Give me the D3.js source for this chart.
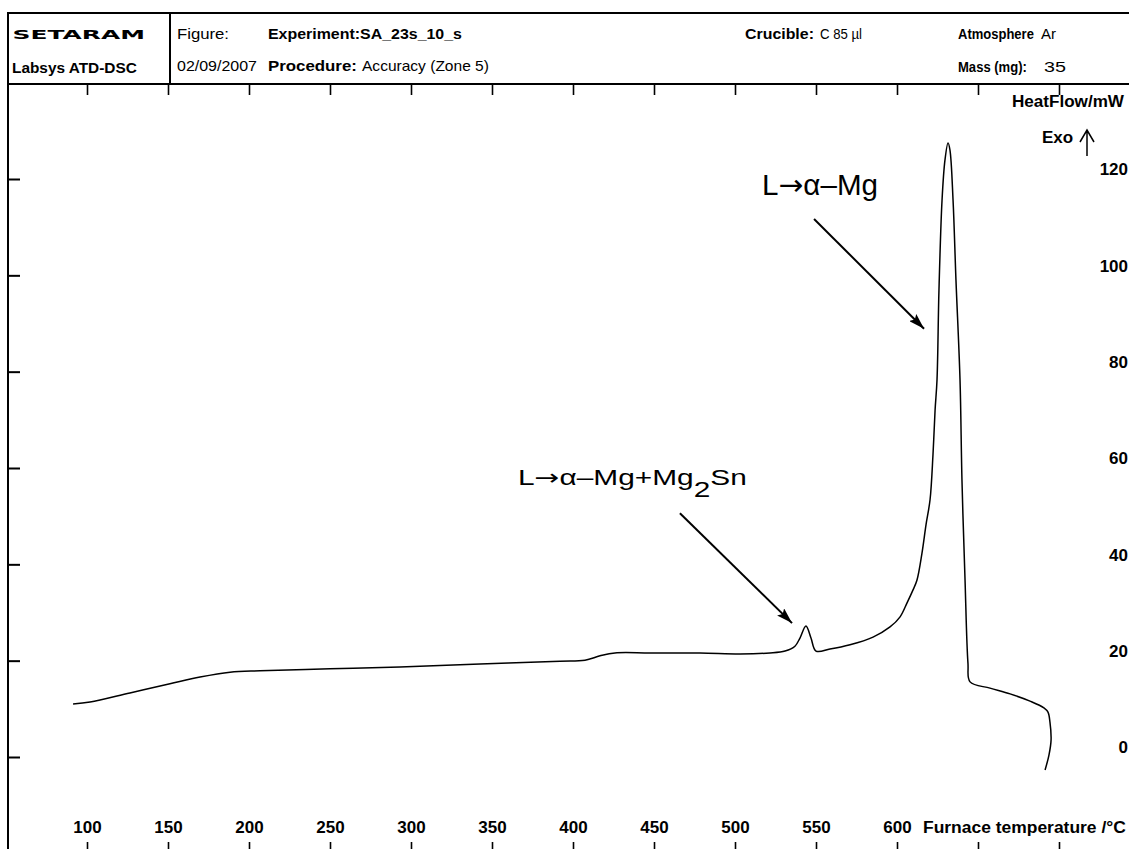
<!DOCTYPE html>
<html>
<head>
<meta charset="utf-8">
<script src="https://cdn.jsdelivr.net/npm/d3@7"></script>
<style>
  body { margin: 0; background: #fff; overflow: hidden; }
  svg { display: block; font-family: "Liberation Sans", Arial, sans-serif; }
</style>
</head>
<body>
<div id="chart"></div>
<script>
// DSC trace: furnace temperature (°C) vs heat flow (mW), in recording order
let temperature = [91.4, 101.9, 126.5, 151.2, 169.8, 188.3, 206.8, 250.0, 293.2, 342.6,
  392.0, 407.4, 416.7, 425.9, 447.5, 478.4, 503.1, 521.6, 530.9, 537.0,
  540.1, 543.8, 546.9, 550.0, 558.6, 571.0, 585.2, 595.7, 601.9, 606.2,
  609.9, 612.3, 615.4, 617.9, 620.4, 622.2, 623.5, 624.7, 625.9, 627.8,
  629.6, 631.5, 632.7, 634.6, 636.4, 638.9, 640.1, 642.0, 643.8, 645.1,
  657.4, 669.8, 682.1, 690.7, 693.2, 694.4, 695.1, 693.8, 691.4];
let heatFlow = [11.0, 11.4, 13.3, 15.2, 16.6, 17.6, 17.9, 18.3, 18.7, 19.3,
  19.9, 20.1, 21.0, 21.6, 21.6, 21.6, 21.4, 21.6, 22.0, 23.0,
  24.7, 27.2, 24.7, 22.0, 22.4, 23.3, 24.9, 27.0, 29.1, 32.0,
  34.7, 36.7, 42.3, 48.2, 53.4, 62.7, 72.0, 78.3, 96.9, 115.6,
  123.9, 127.5, 126.0, 115.6, 99.0, 78.3, 57.5, 36.7, 19.5, 15.6,
  14.3, 13.1, 11.6, 10.2, 9.3, 7.3, 3.5, 0.4, -2.7];

let tempTicks = [100, 150, 200, 250, 300, 350, 400, 450, 500, 550, 600, 650, 700];
let tempLabels = ["100", "150", "200", "250", "300", "350", "400", "450", "500", "550", "600", "", ""];
let heatTicks = [0, 20, 40, 60, 80, 100, 120];

// annotations: label, label anchor (temp, heat), arrow start and tip (temp, heat)
let annLabels = ["L|→|α–Mg", "L|→|α–Mg+Mg|_2|Sn"];
let annLabelAt = [[516.7, 116.7], [366.0, 56.5]];
let annArrowFrom = [[548.8, 111.7], [466.0, 50.6]];
let annArrowTo = [[616.7, 88.9], [535.2, 27.8]];

let headerText = ["SETARAM", "Labsys ATD-DSC", "Figure:", "Experiment:SA_23s_10_s",
  "02/09/2007", "Procedure:", "Accuracy (Zone 5)", "Crucible:", "C 85 µl",
  "Atmosphere", "Ar", "Mass (mg):", "35"];

let svgWidth = 1129;
let svgHeight = 849;

let svg = d3.select("#chart")
  .append("svg")
  .attr("width", svgWidth)
  .attr("height", svgHeight);

// scales
let x = d3.scaleLinear().domain([100, 600]).range([87, 897]);
let y = d3.scaleLinear().domain([0, 120]).range([757, 179]);

let frameLeft = 8, headTop = 13, plotTop = 84, plotBottom = 853;

// header box and plot frame
svg.append("path")
  .attr("d", `M${frameLeft},${svgHeight} V${headTop} H${svgWidth} M${frameLeft},${plotTop} H${svgWidth} M170,${headTop} V${plotTop}`)
  .attr("fill", "none")
  .attr("stroke", "#000")
  .attr("stroke-width", 2);

// header texts: [x start, x end, baseline, weight]
let headerPos = [[12.5, 145, 39, 900], [12, 137, 73, 700], [177, 229, 39, 400], [268, 462, 39, 700],
  [177, 257, 71, 400], [268, 357, 71, 700], [362, 489, 71, 400], [745, 814, 39, 700], [820, 862, 39, 400],
  [958, 1034, 39, 700], [1041, 1056, 39, 400], [958, 1027, 72, 700], [1044, 1066, 72, 400]];

// stretch a text horizontally so it spans the wanted width
function fitWidth(t, x0, y0, target) {
  let w = t.node().getComputedTextLength();
  t.attr("transform", `translate(${x0}, ${y0}) scale(${target / w}, 1)`);
}

svg.append("g").selectAll("text")
  .data(headerText)
  .enter()
  .append("text")
  .attr("font-size", (d, i) => i === 0 ? 13 : 15)
  .attr("font-family", (d, i) => i === 0 ? "DejaVu Sans" : null)
  .attr("font-weight", (d, i) => headerPos[i][3])
  .text(d => d)
  .each(function(d, i) {
    let p = headerPos[i];
    fitWidth(d3.select(this), p[0], p[2], p[1] - p[0]);
  });

// top ticks
let topAxis = svg.append("g")
  .attr("transform", `translate(0, ${plotTop})`)
  .call(d3.axisBottom(x).tickValues(tempTicks).tickSize(11).tickFormat(""));
topAxis.select(".domain").remove();
topAxis.selectAll("line").attr("stroke-width", 1.6);

// bottom ticks and labels
let bottomAxis = svg.append("g")
  .attr("transform", `translate(0, ${plotBottom})`)
  .call(d3.axisTop(x).tickValues(tempTicks).tickSize(11).tickPadding(9)
    .tickFormat((d, i) => tempLabels[i]));
bottomAxis.select(".domain").remove();
bottomAxis.selectAll("line").attr("stroke-width", 1.6);
bottomAxis.attr("font-size", 17).attr("font-weight", "bold")
  .attr("font-family", "'Liberation Sans', Arial, sans-serif");

let xTitle = svg.append("text")
  .attr("font-size", 17)
  .attr("font-weight", "bold")
  .text("Furnace temperature /°C");
fitWidth(xTitle, 923, 833, 203);

// left ticks
let leftAxis = svg.append("g")
  .attr("transform", `translate(${frameLeft}, 0)`)
  .call(d3.axisRight(y).tickValues(heatTicks).tickSize(12).tickFormat(""));
leftAxis.select(".domain").remove();
leftAxis.selectAll("line").attr("stroke-width", 2);

// right labels, flush with the page edge
let rightAxis = svg.append("g")
  .attr("transform", "translate(1137, 0)")
  .call(d3.axisLeft(y).tickValues(heatTicks).tickSize(0).tickPadding(9));
rightAxis.select(".domain").remove();
rightAxis.selectAll("line").remove();
rightAxis.attr("font-size", 17).attr("font-weight", "bold")
  .attr("font-family", "'Liberation Sans', Arial, sans-serif");
rightAxis.selectAll("text").attr("dy", "-0.25em");

let yTitle = svg.append("text")
  .attr("font-size", 17)
  .attr("font-weight", "bold")
  .text("HeatFlow/mW");
fitWidth(yTitle, 1012, 107, 112);

svg.append("text")
  .attr("x", 1042)
  .attr("y", 143)
  .attr("font-size", 17)
  .attr("font-weight", "bold")
  .text("Exo");

svg.append("path")
  .attr("d", "M1087,156 V130 M1080,142 L1087,130 L1094,142")
  .attr("fill", "none")
  .attr("stroke", "#000")
  .attr("stroke-width", 1.5);

// the curve
let line = d3.line()
  .x(i => x(temperature[i]))
  .y(i => y(heatFlow[i]))
  .curve(d3.curveCatmullRom.alpha(0.5));

svg.append("path")
  .datum(d3.range(temperature.length))
  .attr("d", line)
  .attr("fill", "none")
  .attr("stroke", "#000")
  .attr("stroke-width", 1.5)
  .attr("stroke-linejoin", "round");

// annotation arrows
svg.append("defs").append("marker")
  .attr("id", "arr")
  .attr("viewBox", "0 0 16 10")
  .attr("refX", 16)
  .attr("refY", 5)
  .attr("markerWidth", 16)
  .attr("markerHeight", 10)
  .attr("markerUnits", "userSpaceOnUse")
  .attr("orient", "auto")
  .append("path")
  .attr("d", "M0,0 L16,5 L0,10 L3,5 Z")
  .attr("fill", "#000");

svg.append("g").selectAll("line")
  .data(annArrowFrom)
  .enter()
  .append("line")
  .attr("x1", d => x(d[0]))
  .attr("y1", d => y(d[1]))
  .attr("x2", (d, i) => x(annArrowTo[i][0]))
  .attr("y2", (d, i) => y(annArrowTo[i][1]))
  .attr("stroke", "#000")
  .attr("stroke-width", 2)
  .attr("marker-end", "url(#arr)");

// annotation labels: "|" splits parts, "_" starts a subscript part
let labelSize = [29, 22];
let labelWidth = [116, 229];
annLabels.forEach(function(lbl, i) {
  let t = svg.append("text")
    .attr("font-size", labelSize[i]);
  let shift = 0;
  lbl.split("|").forEach(function(p) {
    let ts = t.append("tspan");
    if (p === "→") {
      ts.attr("font-family", "DejaVu Sans").text(p);
    } else if (p[0] === "_") {
      ts.attr("dy", 12).text(p.slice(1));
      shift = 12;
      return;
    } else {
      ts.text(p);
    }
    if (shift) { ts.attr("dy", -shift); shift = 0; }
  });
  fitWidth(t, x(annLabelAt[i][0]), y(annLabelAt[i][1]), labelWidth[i]);
});
</script>
</body>
</html>
